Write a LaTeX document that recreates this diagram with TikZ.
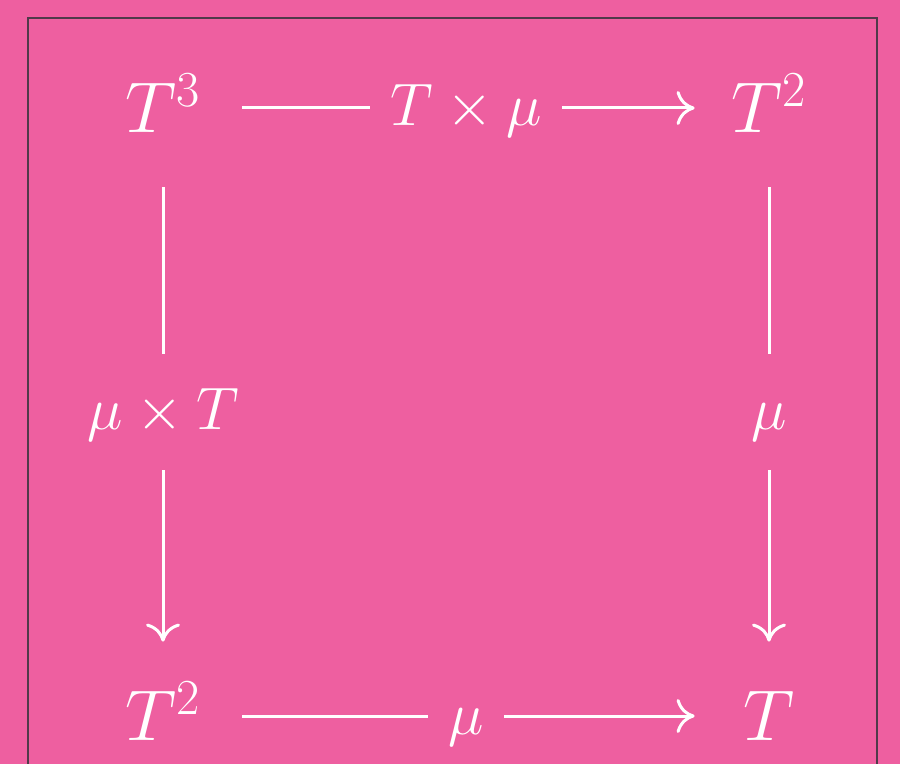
\documentclass[tikz,border=0pt]{standalone}
\usepackage{fix-cm}
\usepackage{amsmath}
\usepackage{tikz}
\usetikzlibrary{arrows.meta,positioning}
\definecolor{bgpink}{RGB}{238,95,160}
\definecolor{framegray}{RGB}{80,58,74}

\begin{document}
\begin{tikzpicture}[x=0.5pt, y=-0.5pt,
    obj/.style={rectangle, minimum width=79pt, minimum height=79pt, inner sep=0pt, text=white, font=\fontsize{36}{43}\selectfont, text height=24.5pt, text depth=0pt},
    lbl/.style={rectangle, fill=bgpink, inner xsep=10pt, inner ysep=20pt, text=white, font=\fontsize{30}{36}\selectfont, text height=18pt, text depth=0pt},
    ar/.style={white, line width=1.5pt, shorten >=-2.5pt, -{Computer Modern Rightarrow[width=17pt,length=9pt]}}]
    \useasboundingbox (0,0) rectangle (900,764);
    \fill [bgpink] (0,0) rectangle (900,764);
    \clip (0,0) rectangle (900,764);
    \draw [framegray, line width=0.6pt] (28,18) rectangle (877,800);
    % objects
    \node [obj] (tcube) at (163,108) {$T^3$};
    \node [obj] (tsqtop) at (769,108) {$T^2$};
    \node [obj] (tsqbot) at (163,716) {$T^2$};
    \node [obj] (tbase) at (769,716) {$T$};
    % arrows
    \draw [ar] (tcube) -- node [lbl] {$T\times\mu$} (tsqtop);
    \draw [ar] (tcube) -- node [lbl] {$\mu\times T$} (tsqbot);
    \draw [ar] (tsqtop) -- node [lbl] {$\mu$} (tbase);
    \draw [ar] (tsqbot) -- node [lbl] {$\mu$} (tbase);
\end{tikzpicture}
\end{document}
